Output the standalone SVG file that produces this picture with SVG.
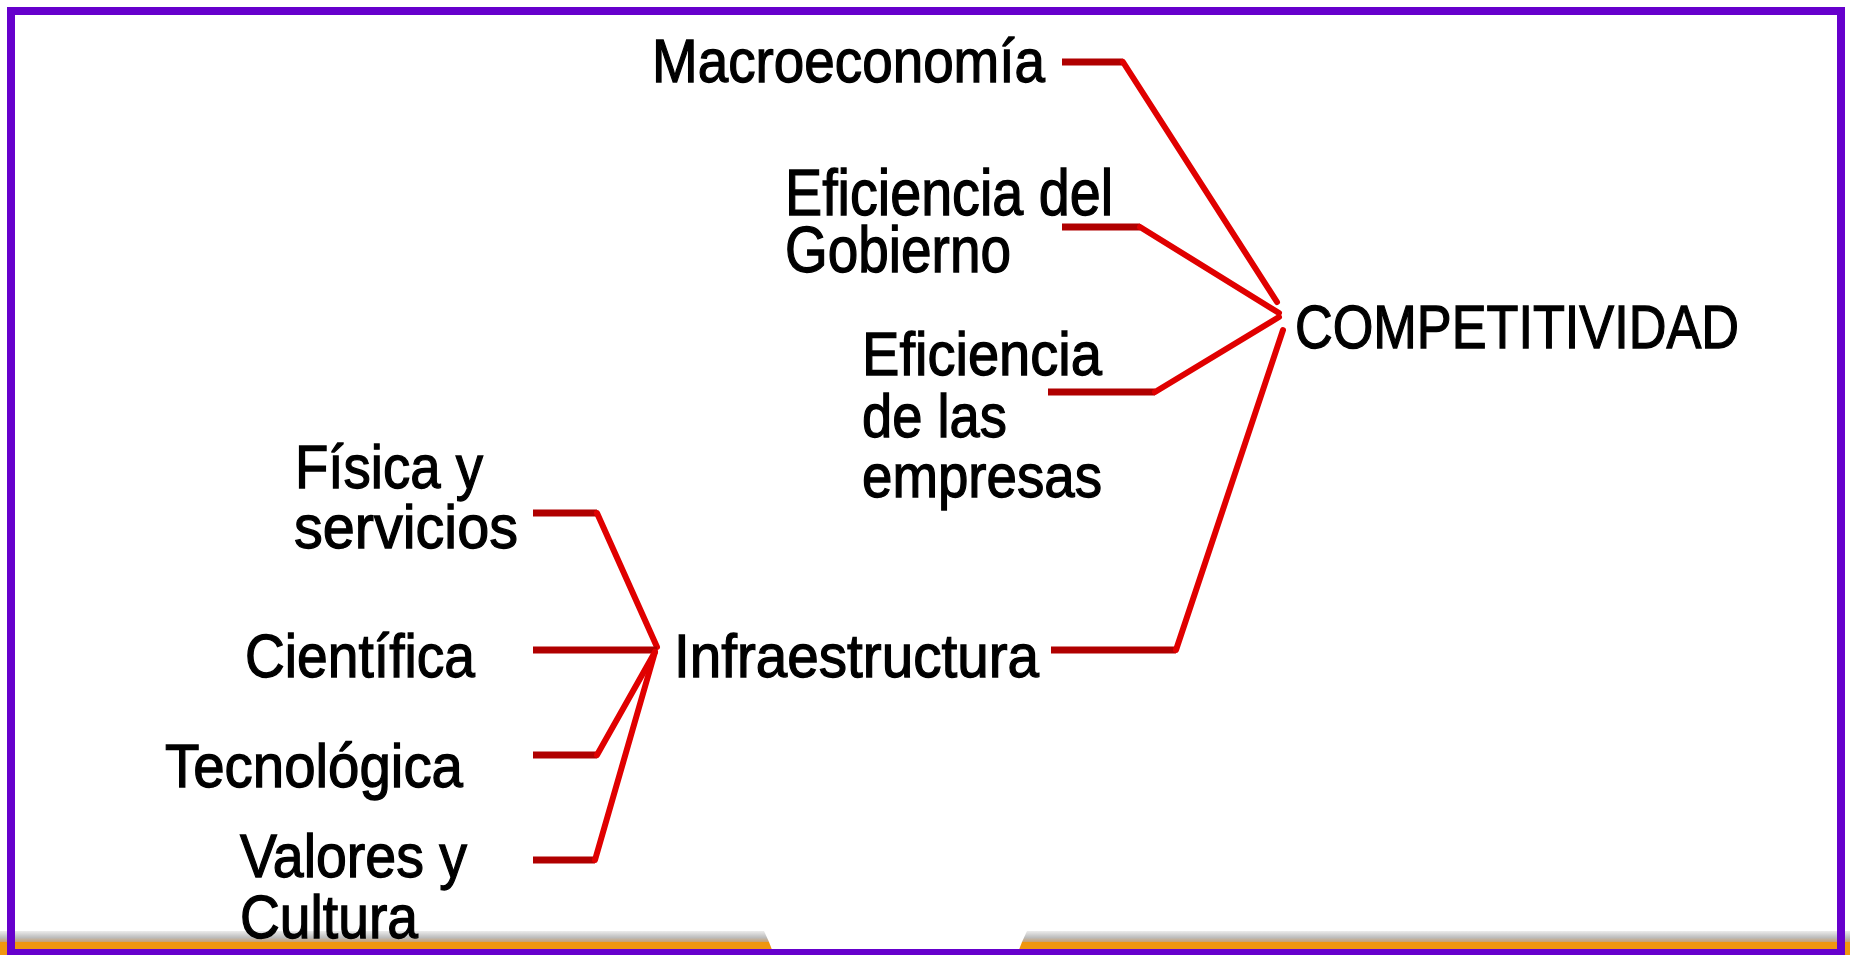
<svg xmlns="http://www.w3.org/2000/svg" width="1850" height="955" viewBox="0 0 1850 955">
<style>
.t{font-family:"Liberation Sans Narrow","Liberation Sans",Arial,sans-serif;font-size:62px;fill:#000;stroke:#000;stroke-width:1.3}
.h{stroke:#b00000;stroke-width:7;fill:none;stroke-linecap:butt}
.d{stroke:#e00000;stroke-width:6;fill:none;stroke-linecap:round}
</style>
<defs>
<linearGradient id="band" x1="0" y1="0" x2="0" y2="1">
<stop offset="0" stop-color="#ececec"/>
<stop offset="0.6" stop-color="#bcbcbc"/>
<stop offset="1" stop-color="#c9a070"/>
</linearGradient>
</defs>
<rect x="0" y="0" width="1850" height="955" fill="#fff"/>
<g id="bottom-bars">
<polygon points="0,931 764,931 769,942 0,942" fill="url(#band)"/>
<polygon points="0,942 769,942 774,955 0,955" fill="#f0960f"/>
<polygon points="1027,931 1850,931 1850,942 1022,942" fill="url(#band)"/>
<polygon points="1022,942 1850,942 1850,955 1017,955" fill="#f0960f"/>
</g>
<g id="connectors">
<line class="h" x1="1062" y1="62" x2="1123" y2="62"/>
<line class="d" x1="1123" y1="62" x2="1277" y2="302"/>
<line class="h" x1="1062" y1="227" x2="1140" y2="227"/>
<line class="d" x1="1140" y1="227" x2="1279" y2="313"/>
<line class="h" x1="1048" y1="392" x2="1155" y2="392"/>
<line class="d" x1="1155" y1="392" x2="1279" y2="317"/>
<line class="h" x1="1051" y1="650" x2="1176" y2="650"/>
<line class="d" x1="1176" y1="650" x2="1283" y2="330"/>
<line class="h" x1="533" y1="513" x2="597" y2="513"/>
<line class="d" x1="597" y1="513" x2="657" y2="647"/>
<line class="h" x1="533" y1="650" x2="657" y2="650"/>
<line class="h" x1="533" y1="755" x2="597" y2="755"/>
<line class="d" x1="597" y1="755" x2="655" y2="652"/>
<line class="h" x1="533" y1="860" x2="595" y2="860"/>
<line class="d" x1="595" y1="860" x2="655" y2="652"/>
</g>
<g id="n-macro"><text class="t" x="652" y="82" textLength="393" lengthAdjust="spacingAndGlyphs">Macroeconomía</text></g>
<g id="n-gobierno"><text class="t" x="785" y="215" textLength="328" lengthAdjust="spacingAndGlyphs" style="font-size:64px">Eficiencia del</text><text class="t" x="785" y="272" textLength="226" lengthAdjust="spacingAndGlyphs" style="font-size:64px">Gobierno</text></g>
<g id="n-empresas"><text class="t" x="862" y="375" textLength="240" lengthAdjust="spacingAndGlyphs">Eficiencia</text><text class="t" x="862" y="437" textLength="145" lengthAdjust="spacingAndGlyphs">de las</text><text class="t" x="862" y="497" textLength="240" lengthAdjust="spacingAndGlyphs">empresas</text></g>
<g id="n-competitividad"><text class="t" x="1295" y="348" textLength="444" lengthAdjust="spacingAndGlyphs">COMPETITIVIDAD</text></g>
<g id="n-infra"><text class="t" x="674" y="677" textLength="365" lengthAdjust="spacingAndGlyphs">Infraestructura</text></g>
<g id="n-fisica"><text class="t" x="295" y="488" textLength="188" lengthAdjust="spacingAndGlyphs">Física y</text><text class="t" x="294" y="548" textLength="224" lengthAdjust="spacingAndGlyphs">servicios</text></g>
<g id="n-cientifica"><text class="t" x="245" y="677" textLength="230" lengthAdjust="spacingAndGlyphs">Científica</text></g>
<g id="n-tecnologica"><text class="t" x="165" y="787" textLength="298" lengthAdjust="spacingAndGlyphs">Tecnológica</text></g>
<g id="n-valores"><text class="t" x="240" y="877" textLength="227" lengthAdjust="spacingAndGlyphs">Valores y</text><text class="t" x="240" y="938" textLength="178" lengthAdjust="spacingAndGlyphs">Cultura</text></g>
<rect id="frame" x="11" y="11" width="1830" height="942" fill="none" stroke="#6600cc" stroke-width="8"/>
</svg>
